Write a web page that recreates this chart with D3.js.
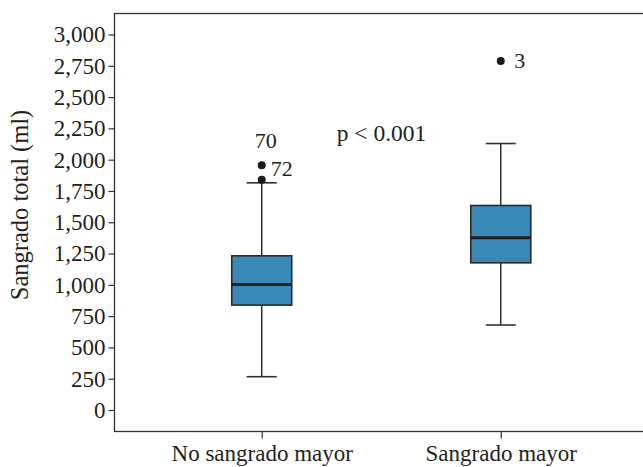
<!DOCTYPE html>
<html>
<head>
<meta charset="utf-8">
<script src="https://cdn.jsdelivr.net/npm/d3@7"></script>
<style>
  html, body { margin: 0; padding: 0; background: #fff; }
  text { font-family: "Liberation Serif", "DejaVu Serif", serif; fill: #231f20; }
</style>
</head>
<body>
<svg id="chart" width="643" height="467"></svg>
<script>
// ---- data ----
const categories = ["No sangrado mayor", "Sangrado mayor"];
const whiskerLow  = [266, 679];
const q1          = [838, 1176];
const medians     = [1002, 1376];
const q3          = [1232, 1634];
const whiskerHigh = [1815, 2129];
const outlierGroup = [0, 0, 1];
const outlierValues = [1956, 1840, 2789];
const outlierLabels = ["70", "72", "3"];
const yTicks = [0, 250, 500, 750, 1000, 1250, 1500, 1750, 2000, 2250, 2500, 2750, 3000];
const yTitle = "Sangrado total (ml)";
const annotation = "p < 0.001";

// ---- layout ----
const svg = d3.select("#chart");
const mLeft = 114.5, mTop = 13.5, mRight = 648, mBottom = 431.5;

const x = d3.scalePoint().domain(categories).range([mLeft, mRight]).padding(0.616);
const y = d3.scaleLinear().domain([0, 3000]).range([410, 34.5]);

const fmt = d3.format(",");

// frame
svg.append("rect")
  .attr("x", mLeft).attr("y", mTop)
  .attr("width", mRight - mLeft).attr("height", mBottom - mTop)
  .attr("fill", "none").attr("stroke", "#333").attr("stroke-width", 1.3);

// y axis
const yAxis = svg.append("g")
  .attr("transform", `translate(${mLeft},0)`)
  .call(d3.axisLeft(y).tickValues(yTicks).tickFormat(fmt).tickSize(6).tickPadding(3));
yAxis.select(".domain").remove();
yAxis.selectAll(".tick line").attr("stroke", "#333").attr("stroke-width", 1.2);
yAxis.selectAll(".tick text").attr("font-size", 23).attr("fill", "#231f20")
  .style("font-family", "'Liberation Serif', serif");

// x axis
const xAxis = svg.append("g")
  .attr("transform", `translate(0,${mBottom})`)
  .call(d3.axisBottom(x).tickSize(7).tickPadding(6));
xAxis.select(".domain").remove();
xAxis.selectAll(".tick line").attr("stroke", "#333").attr("stroke-width", 1.2);
xAxis.selectAll(".tick text").attr("font-size", 23).attr("fill", "#231f20")
  .style("font-family", "'Liberation Serif', serif");

// y title
svg.append("text")
  .attr("transform", `translate(28,205) rotate(-90)`)
  .attr("text-anchor", "middle")
  .attr("font-size", 24.5)
  .text(yTitle);

// boxes
const boxW = 60, capW = 30;
const idx = d3.range(categories.length);
const g = svg.append("g");

idx.forEach(i => {
  const cx = x(categories[i]);
  g.append("line").attr("x1", cx).attr("x2", cx)
    .attr("y1", y(q3[i])).attr("y2", y(whiskerHigh[i]))
    .attr("stroke", "#222").attr("stroke-width", 1.4);
  g.append("line").attr("x1", cx).attr("x2", cx)
    .attr("y1", y(q1[i])).attr("y2", y(whiskerLow[i]))
    .attr("stroke", "#222").attr("stroke-width", 1.4);
  [whiskerHigh[i], whiskerLow[i]].forEach(v => {
    g.append("line").attr("x1", cx - capW / 2).attr("x2", cx + capW / 2)
      .attr("y1", y(v)).attr("y2", y(v))
      .attr("stroke", "#333").attr("stroke-width", 1.6);
  });
  g.append("rect")
    .attr("x", cx - boxW / 2).attr("y", y(q3[i]))
    .attr("width", boxW).attr("height", y(q1[i]) - y(q3[i]))
    .attr("fill", "#3a88b8").attr("stroke", "#2a2a2a").attr("stroke-width", 1.6);
  g.append("line").attr("x1", cx - boxW / 2).attr("x2", cx + boxW / 2)
    .attr("y1", y(medians[i])).attr("y2", y(medians[i]))
    .attr("stroke", "#1e1e1e").attr("stroke-width", 3);
});

// outliers
const labelOffsets = [[4, -17, "middle"], [9, -3.5, "start"], [13.5, 7.5, "start"]];
outlierValues.forEach((v, k) => {
  const cx = x(categories[outlierGroup[k]]);
  g.append("circle").attr("cx", cx).attr("cy", y(v)).attr("r", 4).attr("fill", "#1a1a1a");
  const o = labelOffsets[k];
  g.append("text")
    .attr("x", cx + o[0]).attr("y", y(v) + o[1])
    .attr("text-anchor", o[2])
    .attr("font-size", 22)
    .text(outlierLabels[k]);
});

// p-value annotation
svg.append("text")
  .attr("x", 381.5).attr("y", 141)
  .attr("text-anchor", "middle")
  .attr("font-size", 23.5)
  .text(annotation);
</script>
</body>
</html>
